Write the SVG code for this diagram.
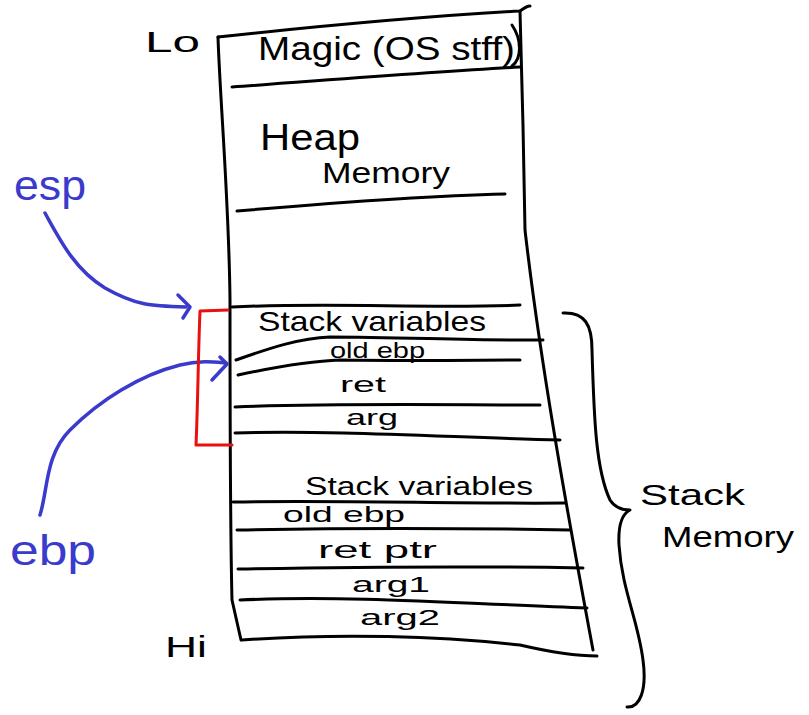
<svg xmlns="http://www.w3.org/2000/svg" width="809" height="715" viewBox="0 0 809 715">
<style>
.k{fill:none;stroke:#000;stroke-width:3;stroke-linecap:round;stroke-linejoin:round}
.b{fill:none;stroke:#3a3acc;stroke-width:3.5;stroke-linecap:round;stroke-linejoin:round}
.r{fill:none;stroke:#e81010;stroke-width:3;stroke-linecap:round;stroke-linejoin:round}
.t{font-family:"Liberation Sans","DejaVu Sans",sans-serif;fill:#000}
.bt{font-family:"Liberation Sans","DejaVu Sans",sans-serif;fill:#3a3acc}
</style>
<rect width="809" height="715" fill="#fff"/>
<g id="memory-column">
<path class="k" d="M218,37 C320,26 430,16 520,11 C524,8 527,6 530,6"/>
<path class="k" d="M520,11 C522,80 524,160 525,230 C540,360 565,500 593,650"/>
<path class="k" d="M232,87 C330,80 430,72 520,67"/>
<path class="k" d="M218,37 C220,100 229,200 230,300 C230,420 230,520 232,600 L241,640"/>
<path class="k" d="M512,25 C522,40 522,58 512,66"/>
</g>
<g id="magic"><text class="t" x="258" y="60" font-size="34" textLength="257" lengthAdjust="spacingAndGlyphs">Magic (OS stff)</text></g>
<g id="heap">
<text class="t" x="260" y="150" font-size="36" textLength="100" lengthAdjust="spacingAndGlyphs">Heap</text>
<text class="t" x="322" y="183" font-size="30" textLength="128" lengthAdjust="spacingAndGlyphs">Memory</text>
<path class="k" d="M237,211 C330,203 420,196 505,194"/>
</g>
<g id="frame1">
<path class="k" d="M232,307 C330,302 430,309 520,305"/>
<text class="t" x="258" y="331" font-size="28" textLength="228" lengthAdjust="spacingAndGlyphs">Stack variables</text>
<path class="k" d="M236,360 C270,348 300,338 330,337 C400,337 480,341 543,340"/>
<text class="t" x="330" y="358" font-size="22" textLength="95" lengthAdjust="spacingAndGlyphs">old ebp</text>
<path class="k" d="M238,375 C280,366 310,361 340,360 C420,361 480,360 520,360"/>
<text class="t" x="340" y="392" font-size="22" textLength="46" lengthAdjust="spacingAndGlyphs">ret</text>
<path class="k" d="M235,407 C330,403 450,405 540,405"/>
<text class="t" x="346" y="425" font-size="22" textLength="52" lengthAdjust="spacingAndGlyphs">arg</text>
<path class="k" d="M235,433 C340,430 460,438 560,440"/>
</g>
<g id="frame2">
<text class="t" x="305" y="495" font-size="26" textLength="228" lengthAdjust="spacingAndGlyphs">Stack variables</text>
<path class="k" d="M233,502 C340,500 460,504 565,503"/>
<text class="t" x="283" y="522" font-size="22" textLength="122" lengthAdjust="spacingAndGlyphs">old ebp</text>
<path class="k" d="M237,530 C340,528 460,528 570,530"/>
<text class="t" x="318" y="558" font-size="24" textLength="119" lengthAdjust="spacingAndGlyphs">ret ptr</text>
<path class="k" d="M238,569 C350,567 470,566 583,568"/>
<text class="t" x="352" y="592" font-size="22" textLength="78" lengthAdjust="spacingAndGlyphs">arg1</text>
<path class="k" d="M240,600 C350,595 470,604 587,608"/>
<text class="t" x="360" y="625" font-size="22" textLength="80" lengthAdjust="spacingAndGlyphs">arg2</text>
<path class="k" d="M242,640 C340,633 440,636 520,645 C550,652 575,656 597,656"/>
</g>
<g id="labels">
<text class="t" x="145" y="52" font-size="30" textLength="55" lengthAdjust="spacingAndGlyphs">Lo</text>
<text class="t" x="165" y="657" font-size="30" textLength="42" lengthAdjust="spacingAndGlyphs">Hi</text>
<text class="t" x="640" y="505" font-size="30" textLength="105" lengthAdjust="spacingAndGlyphs">Stack</text>
<text class="t" x="662" y="547" font-size="30" textLength="132" lengthAdjust="spacingAndGlyphs">Memory</text>
</g>
<g id="esp"><text class="bt" x="14" y="200" font-size="42" textLength="72" lengthAdjust="spacingAndGlyphs">esp</text></g>
<g id="ebp"><text class="bt" x="10" y="565" font-size="42" textLength="86" lengthAdjust="spacingAndGlyphs">ebp</text></g>
<g id="connectors">
<path class="b" d="M45,213 C60,240 75,270 105,288 C135,305 150,306 186,307"/>
<path class="b" d="M178,295 L190,307 L183,318"/>
<path class="b" d="M40,515 C48,490 45,455 70,430 C100,400 140,375 180,365 C200,360 215,362 226,363"/>
<path class="b" d="M220,357 L227,364 L212,380"/>
<path class="r" d="M228,310 L200,311 C198,360 198,400 196,445 L232,445"/>
<path class="k" d="M563,313 C585,312 592,325 592,350 C594,420 596,470 610,500 C615,508 622,510 630,510 C622,514 618,525 619,545 C622,590 638,620 643,660 C647,690 640,708 627,707"/>
</g>
</svg>
